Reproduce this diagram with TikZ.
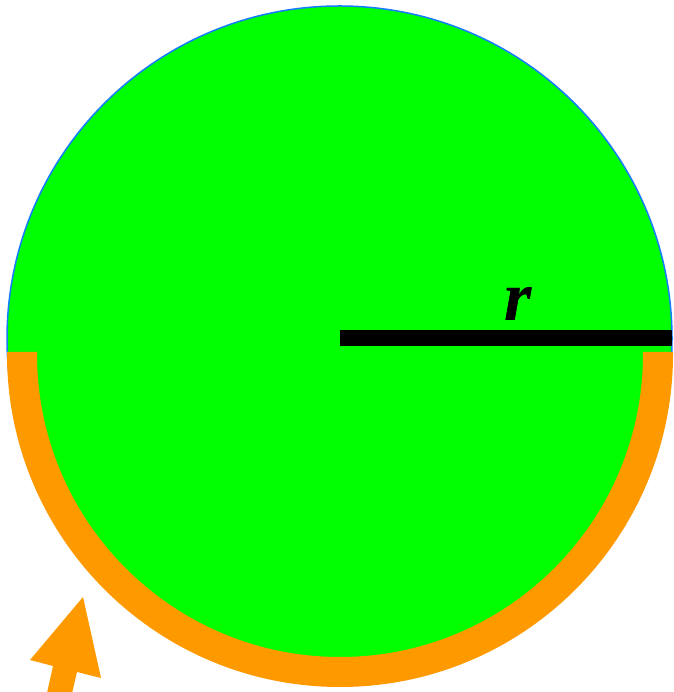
\documentclass[tikz,border=0pt]{standalone}
\usepackage{fontspec}
\usepackage{pdfrender}
\setmainfont{Liberation Serif}
\definecolor{disc}{RGB}{0,255,0}
\definecolor{rim}{RGB}{20,125,255}
\definecolor{band}{RGB}{255,153,0}
\definecolor{glow}{RGB}{235,255,235}
\tikzset{
  rlabel/.style={font=\fontsize{70}{70}\selectfont\bfseries\itshape, inner sep=0pt}
}
\newcommand{\glowtext}[1]{\rlap{\textpdfrender{TextRenderingMode=Stroke,LineWidth=2.2,StrokeColor=glow}{#1}}#1}
\begin{document}
\begin{tikzpicture}[x=1pt,y=1pt]
\useasboundingbox (0,0) rectangle (673,692);
\clip (0,0) rectangle (673,692);
% disc
\filldraw[fill=disc, draw=rim, line width=1.5pt] (339.5,353.5) circle (332.5pt);
% orange band on the lower half
\draw[band, line width=30pt] (22,340) -- (22,338) arc[start angle=180, end angle=360, radius=318pt] -- (658,340);
% radius
\coordinate (c) at (340,353.5);
\coordinate (e) at (672,353.5);
\draw[line width=16pt] (c) -- (e);
% label
\node[rlabel, anchor=base] (r) at (518,371) {\glowtext{r}};
% arrow
\fill[band] (83,95) -- (101,14) -- (77,20) -- (70,-10) -- (45,-10) -- (53,26) -- (30,32) -- cycle;
\end{tikzpicture}
\end{document}
